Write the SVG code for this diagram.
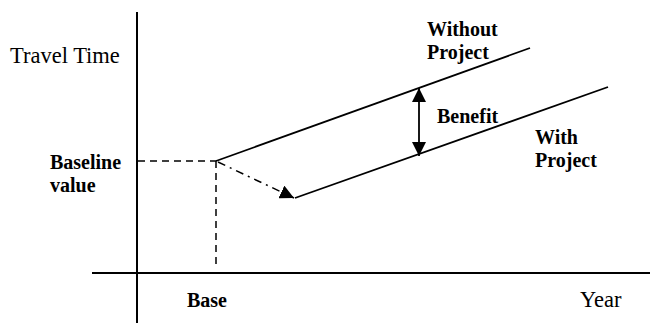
<svg xmlns="http://www.w3.org/2000/svg" width="666" height="323" viewBox="0 0 666 323">
<style>
.ax{stroke:#000;stroke-width:2;fill:none}
.ln{stroke:#000;stroke-width:1.8;fill:none}
.dash{stroke:#000;stroke-width:1.5;fill:none;stroke-dasharray:7 5}
.dd{stroke:#000;stroke-width:1.5;fill:none;stroke-dasharray:8 5 2 5}
.t{font-family:"Liberation Serif","Times New Roman",serif;font-size:22.5px;fill:#000}
.b{font-family:"Liberation Serif","Times New Roman",serif;font-size:20px;font-weight:bold;fill:#000}
</style>
<defs>
<marker id="ah" viewBox="0 0 14 14" refX="14" refY="7" markerWidth="14" markerHeight="14" markerUnits="userSpaceOnUse" orient="auto-start-reverse">
<path d="M0,0 L14,7 L0,14 Z" fill="#000"/>
</marker>
</defs>
<rect width="666" height="323" fill="#fff"/>
<g id="connectors">
<line class="ax" x1="137" y1="12" x2="137" y2="323"/>
<line class="ax" x1="92" y1="273" x2="650" y2="273"/>
<line class="dash" x1="138" y1="161" x2="216" y2="161"/>
<line class="dash" x1="216" y1="161" x2="216" y2="267"/>
<line class="ln" x1="216" y1="161" x2="530" y2="48"/>
<line class="ln" x1="295" y1="198" x2="608" y2="87"/>
<line class="dd" x1="218" y1="162" x2="294" y2="198" marker-end="url(#ah)"/>
<line class="ln" x1="419" y1="88" x2="419" y2="156" marker-start="url(#ah)" marker-end="url(#ah)"/>
</g>
<g id="travel-time"><text class="t" x="10" y="63">Travel Time</text></g>
<g id="baseline-value"><text class="b" x="50" y="169">Baseline</text><text class="b" x="50" y="192">value</text></g>
<g id="without-project"><text class="b" x="427" y="36">Without</text><text class="b" x="427" y="59">Project</text></g>
<g id="benefit"><text class="b" x="437" y="123">Benefit</text></g>
<g id="with-project"><text class="b" x="535" y="144">With</text><text class="b" x="535" y="167">Project</text></g>
<g id="base"><text class="b" x="187" y="307">Base</text></g>
<g id="year"><text class="t" x="580" y="307">Year</text></g>
</svg>
